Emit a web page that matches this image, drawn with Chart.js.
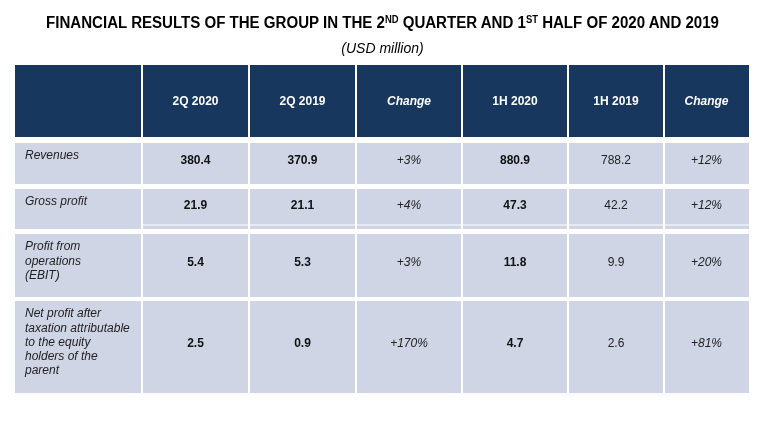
<!DOCTYPE html>
<html>
<head>
<meta charset="utf-8">
<script src="https://cdn.jsdelivr.net/npm/chart.js@4.4.1/dist/chart.umd.min.js"></script>
<style>
  body { margin: 0; background: #fff; }
  .wrap { position: relative; width: 765px; height: 428px; overflow: hidden; }
  .title { position: absolute; left: 0; width: 765px; top: 14px; text-align: center; line-height: 16px; }
  .title span { display: inline-block; font: bold 16px 'Liberation Sans', Arial, sans-serif; color: #000; transform-origin: center; white-space: nowrap; }
  .title sup { font-size: 10px; vertical-align: 5px; line-height: 0; }
  .sub { position: absolute; left: 0; width: 765px; top: 40px; text-align: center; line-height: 14px; font: italic 14px 'Liberation Sans', Arial, sans-serif; color: #000; }
  canvas { position: absolute; left: 0; top: 0; }
</style>
</head>
<body>
<div class="wrap">
  <canvas id="tbl" width="765" height="428"></canvas>
  <div class="title"><span id="ttl">FINANCIAL RESULTS OF THE GROUP IN THE 2<sup>ND</sup> QUARTER AND 1<sup>ST</sup> HALF OF 2020 AND 2019</span></div>
  <div class="sub">(USD million)</div>
</div>
<script>
// table content
const columns = ['', '2Q 2020', '2Q 2019', 'Change', '1H 2020', '1H 2019', 'Change'];
const rowLabels = [
    ['Revenues'],
    ['Gross profit'],
    ['Profit from', 'operations', '(EBIT)'],
    ['Net profit after', 'taxation attributable', 'to the equity', 'holders of the', 'parent']
];
const q2020 = [380.4, 21.9, 5.4, 2.5];
const q2019 = [370.9, 21.1, 5.3, 0.9];
const qChange = ['+3%', '+4%', '+3%', '+170%'];
const h2020 = [880.9, 47.3, 11.8, 4.7];
const h2019 = [788.2, 42.2, 9.9, 2.6];
const hChange = ['+12%', '+12%', '+20%', '+81%'];

// layout in table units (scale maps them to pixels)
const colEdges = [0, 127, 234, 341, 447, 553, 649, 734];
const rowTop = [0, 78, 124, 169, 236];
const rowBottom = [72, 119, 164, 232, 328];
const splitLine = { row: 2, at: 159 };

const fmt = v => v.toFixed(1);
const bodyCols = [
    { vals: q2020.map(fmt), font: 'bold 12px', color: '#111' },
    { vals: q2019.map(fmt), font: 'bold 12px', color: '#111' },
    { vals: qChange, font: 'italic 12px', color: '#222' },
    { vals: h2020.map(fmt), font: 'bold 12px', color: '#111' },
    { vals: h2019.map(fmt), font: '12px', color: '#222' },
    { vals: hChange, font: 'italic 12px', color: '#222' }
];
const FAM = "'Liberation Sans', Arial, sans-serif";

const tablePlugin = {
    id: 'tablePlugin',
    afterDraw(chart) {
        const ctx = chart.ctx, x = chart.scales.x, y = chart.scales.y;
        const nRows = rowTop.length, nCols = colEdges.length - 1;
        ctx.save();
        for (let r = 0; r < nRows; r++) {
            const top = y.getPixelForValue(rowTop[r]), bot = y.getPixelForValue(rowBottom[r]);
            for (let c = 0; c < nCols; c++) {
                let l = x.getPixelForValue(colEdges[c]), rr = x.getPixelForValue(colEdges[c + 1]);
                if (c > 0) l += 1;
                if (c < nCols - 1) rr -= 1;
                ctx.fillStyle = r === 0 ? '#17375e' : '#cfd5e5';
                ctx.fillRect(l, top, rr - l, bot - top);
                if (r === splitLine.row && c > 0) {
                    ctx.fillStyle = '#e6e9f2';
                    ctx.fillRect(l, y.getPixelForValue(splitLine.at), rr - l, 2);
                }
            }
        }
        // header text
        ctx.textAlign = 'center';
        ctx.textBaseline = 'middle';
        const hy = (y.getPixelForValue(rowTop[0]) + y.getPixelForValue(rowBottom[0])) / 2;
        columns.forEach((t, c) => {
            if (!t) return;
            const cx = (x.getPixelForValue(colEdges[c]) + x.getPixelForValue(colEdges[c + 1])) / 2;
            ctx.font = (t === 'Change' ? 'italic bold 12px ' : 'bold 12px ') + FAM;
            ctx.fillStyle = '#fff';
            ctx.fillText(t, cx, hy + 1);
        });
        // row labels
        ctx.textAlign = 'left';
        ctx.font = 'italic 12px ' + FAM;
        ctx.fillStyle = '#222';
        rowLabels.forEach((lines, i) => {
            const top = y.getPixelForValue(rowTop[i + 1]);
            lines.forEach((ln, k) => ctx.fillText(ln, x.getPixelForValue(colEdges[0]) + 10, top + 13 + k * 14.2));
        });
        // values
        ctx.textAlign = 'center';
        bodyCols.forEach((col, j) => {
            const c = j + 1;
            const cx = (x.getPixelForValue(colEdges[c]) + x.getPixelForValue(colEdges[c + 1])) / 2;
            ctx.font = col.font + ' ' + FAM;
            ctx.fillStyle = col.color;
            col.vals.forEach((v, i) => {
                const cy = (y.getPixelForValue(rowTop[i + 1]) + y.getPixelForValue(rowBottom[i + 1])) / 2 - 3;
                ctx.fillText(v, cx, cy);
            });
        });
        ctx.restore();
    }
};

new Chart(document.getElementById('tbl'), {
    type: 'scatter',
    data: { datasets: [{ data: [] }] },
    options: {
        responsive: false,
        animation: false,
        layout: { padding: { left: 15, top: 65, right: 16, bottom: 35 } },
        plugins: { legend: { display: false }, tooltip: { enabled: false } },
        scales: {
            x: { type: 'linear', min: 0, max: colEdges[colEdges.length - 1], display: false },
            y: { type: 'linear', min: 0, max: rowBottom[rowBottom.length - 1], reverse: true, display: false }
        }
    },
    plugins: [tablePlugin]
});

// squeeze the title to the reference width
const ttl = document.getElementById('ttl');
const w = ttl.getBoundingClientRect().width;
if (w > 0) ttl.style.transform = 'scaleX(' + (673 / w).toFixed(3) + ')';
</script>
</body>
</html>
